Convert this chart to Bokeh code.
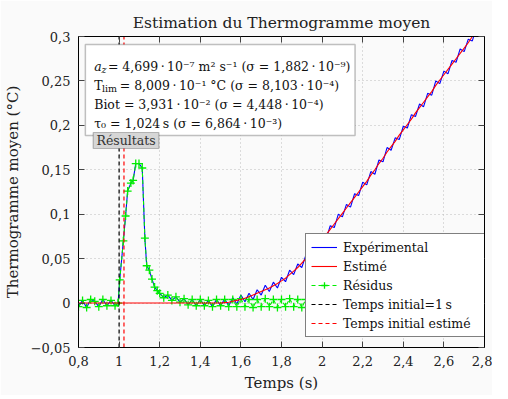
import math
from bokeh.plotting import figure
from bokeh.models import (Range1d, FixedTicker, LinearAxis, BoxAnnotation,
                          Label, Legend, LegendItem, ColumnDataSource)
from bokeh.embed import file_html
from bokeh.resources import INLINE

FONT = "DejaVu Serif"

# ---------------- data ----------------
time_s = [
    0.80, 0.82, 0.84, 0.86, 0.88, 0.90, 0.92, 0.94, 0.96, 0.98, 0.995,
    1.003, 1.021, 1.032, 1.042, 1.058, 1.069, 1.082, 1.098, 1.114, 1.127,
    1.136, 1.149, 1.162, 1.175, 1.188,
    1.20, 1.22, 1.24, 1.26, 1.28, 1.30, 1.32, 1.34, 1.36, 1.38, 1.40, 1.42,
    1.44, 1.46, 1.48, 1.50,
    1.52, 1.54, 1.56, 1.58, 1.60, 1.62, 1.64, 1.66, 1.68, 1.70, 1.72, 1.74,
    1.76, 1.78, 1.80, 1.82, 1.84, 1.86, 1.88, 1.90, 1.92, 1.94, 1.96, 1.98,
    2.00, 2.02, 2.04, 2.06, 2.08, 2.10, 2.12, 2.14, 2.16, 2.18, 2.20, 2.22,
    2.24, 2.26, 2.28, 2.30, 2.32, 2.34, 2.36, 2.38, 2.40, 2.42, 2.44, 2.46,
    2.48, 2.50, 2.52, 2.54, 2.56, 2.58, 2.60, 2.62, 2.64, 2.66, 2.68, 2.70,
    2.72, 2.74, 2.76, 2.78, 2.80,
]

experimental = [
    -0.004, 0.003, -0.005, 0.004, 0.002, -0.004, 0.004, -0.003, 0.003, -0.003, 0.000,
    0.026, 0.070, 0.098, 0.126, 0.135, 0.138, 0.157, 0.157, 0.152, 0.073,
    0.042, 0.037, 0.027, 0.018, 0.014,
    0.011, 0.006, 0.009, 0.003, 0.007, 0.001, 0.005, -0.002, 0.004, -0.003, 0.004, -0.003,
    0.003, -0.004, 0.004, -0.003,
    0.0045, -0.003, 0.006, -0.001, 0.009, 0.0015, 0.011, 0.004, 0.015, 0.009, 0.020, 0.013,
    0.0235, 0.017, 0.029, 0.024, 0.037, 0.032, 0.044, 0.040, 0.054, 0.051, 0.065, 0.061,
    0.075, 0.072, 0.087, 0.085, 0.100, 0.097, 0.111, 0.108, 0.123, 0.121, 0.136, 0.133,
    0.148, 0.145, 0.161, 0.159, 0.175, 0.172, 0.186, 0.184, 0.199, 0.197, 0.212, 0.210,
    0.224, 0.221, 0.236, 0.234, 0.250, 0.247, 0.261, 0.258, 0.273, 0.271, 0.286, 0.283,
    0.297, 0.295, 0.310, 0.308, 0.323,
]

estimated = [
    0.0, 0.0, 0.0, 0.0, 0.0, 0.0, 0.0, 0.0, 0.0, 0.0, 0.0,
    0.0, 0.0, 0.0, 0.0, 0.0, 0.0, 0.0, 0.0, 0.0, 0.0,
    0.0, 0.0, 0.0, 0.0, 0.0,
    0.0, 0.0, 0.0, 0.0, 0.0, 0.0, 0.0, 0.0, 0.0, 0.0, 0.0, 0.0,
    0.0, 0.0, 0.0, 0.0,
    0.0005, 0.001, 0.002, 0.003, 0.004, 0.0055, 0.007, 0.009, 0.011, 0.013, 0.015, 0.017,
    0.0195, 0.022, 0.025, 0.028, 0.032, 0.036, 0.040, 0.045, 0.050, 0.055, 0.060, 0.065,
    0.071, 0.077, 0.083, 0.089, 0.095, 0.101, 0.107, 0.113, 0.119, 0.125, 0.131, 0.137,
    0.144, 0.150, 0.157, 0.163, 0.170, 0.176, 0.182, 0.189, 0.195, 0.201, 0.207, 0.214,
    0.220, 0.226, 0.232, 0.238, 0.245, 0.251, 0.257, 0.263, 0.269, 0.275, 0.281, 0.287,
    0.293, 0.300, 0.306, 0.312, 0.318,
]

residuals = [
    -0.004, 0.003, -0.005, 0.004, 0.002, -0.004, 0.004, -0.003, 0.003, -0.003, 0.000,
    0.026, 0.070, 0.098, 0.126, 0.135, 0.138, 0.157, 0.157, 0.152, 0.073,
    0.042, 0.037, 0.027, 0.018, 0.014,
    0.011, 0.006, 0.009, 0.003, 0.007, 0.001, 0.005, -0.002, 0.004, -0.003, 0.004, -0.003,
    0.003, -0.004, 0.004, -0.003,
    0.004, -0.004, 0.004, -0.004, 0.005, -0.004, 0.004, -0.005, 0.004, -0.004, 0.005, -0.004,
    0.004, -0.005, 0.004, -0.004, 0.005, -0.004, 0.004, -0.005, 0.004, -0.004, 0.005, -0.004,
    0.004, -0.005, 0.004, -0.004, 0.005, -0.004, 0.004, -0.005, 0.004, -0.004, 0.005, -0.004,
    0.004, -0.005, 0.004, -0.004, 0.005, -0.004, 0.004, -0.005, 0.004, -0.004, 0.005, -0.004,
    0.004, -0.005, 0.004, -0.004, 0.005, -0.004, 0.004, -0.005, 0.004, -0.004, 0.005, -0.004,
    0.004, -0.005, 0.004, -0.004, 0.005,
]

t_initial = [1.0]
t_initial_estimated = [1.024]

x_ticks = [0.8, 1, 1.2, 1.4, 1.6, 1.8, 2, 2.2, 2.4, 2.6, 2.8]
x_tick_labels = ["0,8", "1", "1,2", "1,4", "1,6", "1,8", "2", "2,2", "2,4", "2,6", "2,8"]
y_ticks = [-0.05, 0, 0.05, 0.1, 0.15, 0.2, 0.25, 0.3]
y_tick_labels = ["\u22120,05", "0", "0,05", "0,1", "0,15", "0,2", "0,25", "0,3"]

legend_labels = ["Expérimental", "Estimé", "Résidus",
                 "Temps initial=1\u2009s", "Temps initial estimé"]
title_text = "Estimation du Thermogramme moyen"

# ---------------- figure ----------------
X0, X1, Y0, Y1 = 0.8, 2.8, -0.05, 0.3
p = figure(width=492, height=395, output_backend="svg", toolbar_location=None,
           x_range=Range1d(X0, X1), y_range=Range1d(Y0, Y1),
           min_border_left=77, min_border_right=8, min_border_top=36,
           min_border_bottom=48, title=title_text,
           x_axis_label="Temps (s)", y_axis_label="Thermogramme moyen (°C)")

BG = "#fafafa"
p.background_fill_color = BG
p.border_fill_color = BG
p.outline_line_color = "black"
p.outline_line_width = 1

p.title.text_font = FONT
p.title.text_font_size = "15.5px"
p.title.text_font_style = "normal"
p.title.align = "center"
p.title.text_color = "#222222"
p.title.standoff = 10

xt = FixedTicker(ticks=x_ticks)
yt = FixedTicker(ticks=y_ticks)

for ax in (p.xaxis[0], p.yaxis[0]):
    ax.axis_label_text_font = FONT
    ax.axis_label_text_font_size = "15px"
    ax.axis_label_text_font_style = "normal"
    ax.axis_label_text_color = "#222222"
    ax.major_label_text_font = FONT
    ax.major_label_text_font_size = "13px"
    ax.major_label_text_color = "#222222"
    ax.major_tick_in = 6
    ax.major_tick_out = 0
    ax.minor_tick_line_color = None
    ax.axis_line_color = "black"
    ax.major_tick_line_color = "#444444"

p.xaxis[0].ticker = xt
p.yaxis[0].ticker = yt
p.xaxis[0].major_label_overrides = dict(zip(x_ticks, x_tick_labels))
p.yaxis[0].major_label_overrides = dict(zip(y_ticks, y_tick_labels))
p.xaxis[0].major_label_standoff = 8
p.yaxis[0].major_label_standoff = 8
p.xaxis[0].axis_label_standoff = 5
p.yaxis[0].axis_label_standoff = 6

# tick marks only on the top and right edges
for loc, tk in (("above", xt), ("right", yt)):
    ax = LinearAxis(ticker=tk, major_label_text_font_size="1px",
                    major_label_text_color=None,
                    major_label_standoff=0, major_tick_in=6, major_tick_out=0,
                    minor_tick_line_color=None, axis_line_color="black",
                    major_tick_line_color="#444444")
    p.add_layout(ax, loc)

p.xgrid.ticker = xt
p.ygrid.ticker = yt
for g in (p.xgrid[0], p.ygrid[0]):
    g.grid_line_color = "#bdbdbd"
    g.grid_line_dash = "1 3"
    g.grid_line_width = 1

src = ColumnDataSource(dict(t=time_s, exp=experimental, est=estimated, res=residuals))

r_exp = p.line("t", "exp", source=src, line_color="#0000ff", line_width=1.1)
r_res_line = p.line("t", "res", source=src, line_color="#00ee00", line_width=1.1,
                    line_dash="4 3")
r_res_pts = p.scatter("t", "res", source=src, marker="cross", size=8,
                      line_color="#00ee00", line_width=1.3)
r_est = p.line("t", "est", source=src, line_color="#ff0000", line_width=1.1)

# vertical dashed markers (infinite rays from the bottom of the axis)
r_t0 = p.ray(x=t_initial, y=[Y0], length=0, angle=math.pi / 2,
             line_color="black", line_dash="4 3", line_width=1.2)
r_t0e = p.ray(x=t_initial_estimated, y=[Y0], length=0, angle=math.pi / 2,
              line_color="#ff0000", line_dash="4 3", line_width=1.2)

# ---------------- helpers: reference pixels -> data coordinates ----------------
# (frame spans 81..495 x, 37..348 y in the reference picture)
def px(x):
    return X0 + (x - 81) / 414 * (X1 - X0)

def py(y):
    return Y1 - (y - 37) / 311 * (Y1 - Y0)

# ---------------- results box ----------------
p.add_layout(BoxAnnotation(left=px(88), right=px(363), top=py(45), bottom=py(136),
                           fill_color="white", fill_alpha=1, line_color="#333333",
                           line_width=1.5, level="overlay"))

TXT = dict(text_font=FONT, text_color="#111111", text_baseline="alphabetic",
           level="overlay")
SZ = "12.5px"
SUB = "9.5px"

# line 1: a_z
p.add_layout(Label(x=px(97), y=py(67), text="a", text_font_size=SZ,
                   text_font_style="italic", **TXT))
p.add_layout(Label(x=px(104.5), y=py(70), text="z", text_font_size=SUB,
                   text_font_style="italic", **TXT))
p.add_layout(Label(x=px(111), y=py(67),
                   text="= 4,699\u2009·\u200910\u207b\u2077 m\u00b2 s\u207b\u00b9 (σ = 1,882\u2009·\u200910\u207b\u2079)",
                   text_font_size=SZ, **TXT))
# line 2: T_lim
p.add_layout(Label(x=px(97), y=py(86), text="T", text_font_size=SZ, **TXT))
p.add_layout(Label(x=px(105), y=py(89), text="lim", text_font_size=SUB, **TXT))
p.add_layout(Label(x=px(123), y=py(86),
                   text="= 8,009\u2009·\u200910\u207b\u00b9 °C (σ = 8,103\u2009·\u200910\u207b\u2074)",
                   text_font_size=SZ, **TXT))
# line 3: Biot
p.add_layout(Label(x=px(97), y=py(105),
                   text="Biot = 3,931\u2009·\u200910\u207b\u00b2 (σ = 4,448\u2009·\u200910\u207b\u2074)",
                   text_font_size=SZ, **TXT))
# line 4: tau_0
p.add_layout(Label(x=px(97), y=py(124),
                   text="τ\u2080 = 1,024\u2009s (σ = 6,864\u2009·\u200910\u207b\u00b3)",
                   text_font_size=SZ, **TXT))

# "Résultats" tag
p.add_layout(BoxAnnotation(left=px(96), right=px(163), top=py(133), bottom=py(149),
                           fill_color="#d6d6d6", fill_alpha=1, line_color="#333333",
                           line_width=1.2, level="overlay"))
p.add_layout(Label(x=(px(96) + px(163)) / 2, y=py(141), text="Résultats",
                   text_font=FONT, text_font_size="12.5px", text_color="#333333",
                   text_align="center", text_baseline="middle", level="overlay"))

# ---------------- legend ----------------
legend = Legend(items=[
    LegendItem(label=legend_labels[0], renderers=[r_exp]),
    LegendItem(label=legend_labels[1], renderers=[r_est]),
    LegendItem(label=legend_labels[2], renderers=[r_res_line, r_res_pts]),
    LegendItem(label=legend_labels[3], renderers=[r_t0]),
    LegendItem(label=legend_labels[4], renderers=[r_t0e]),
], location=(227, 10))
legend.label_text_font = FONT
legend.label_text_font_size = "12.5px"
legend.label_text_color = "#111111"
legend.glyph_width = 26
legend.glyph_height = 16
legend.label_height = 16
legend.label_width = 145
legend.label_standoff = 6
legend.spacing = 3
legend.padding = 5
legend.margin = 0
legend.border_line_color = "black"
legend.border_line_width = 1
legend.background_fill_color = "white"
legend.background_fill_alpha = 1
p.add_layout(legend)

open("out.html", "w").write(file_html(p, INLINE))
